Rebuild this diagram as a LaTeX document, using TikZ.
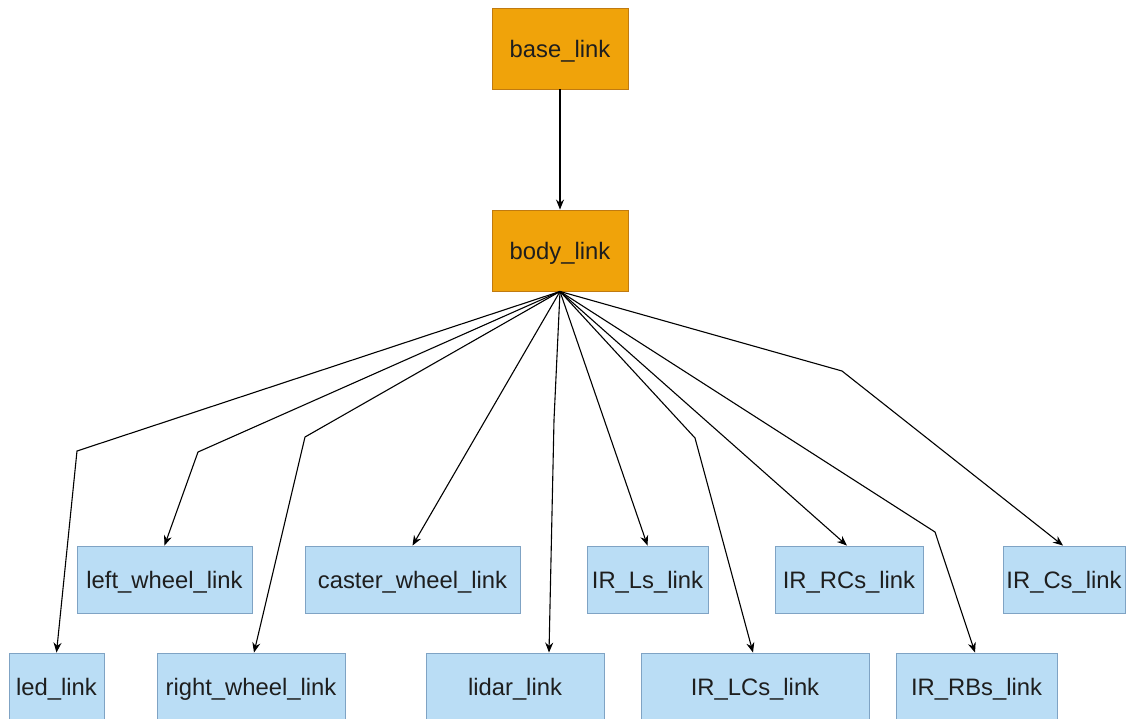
\documentclass[tikz,border=0pt]{standalone}
\usepackage{fontspec}
\setmainfont{Liberation Sans}
\usetikzlibrary{arrows.meta}
\definecolor{orfill}{HTML}{F0A30A}
\definecolor{ordraw}{HTML}{C07A10}
\definecolor{blfill}{HTML}{BADDF5}
\definecolor{bldraw}{HTML}{7FA3C4}
\definecolor{txt}{HTML}{1E1E1E}
\begin{document}
\begin{tikzpicture}[x=1pt,y=-1pt,
  box/.style={rectangle, inner sep=0pt, line width=0.9pt, text=txt,
    text height=18.5pt, text depth=0pt,
    font=\fontsize{23.8}{28}\selectfont},
  orbox/.style={box, fill=orfill, draw=ordraw, minimum width=136pt, minimum height=81pt},
  blbox/.style={box, fill=blfill, draw=bldraw, minimum height=67pt},
  arr/.style={draw=black, line width=1.1pt, -{Stealth[length=10pt,width=8pt]}}]
\clip (0,0) rectangle (1126,718);
\fill[white] (0,0) rectangle (1126,718);
% top nodes
\node[orbox] (base) at (560,48.5) {base\_link};
\node[orbox] (body) at (560,250.5) {body\_link};
% upper row
\node[blbox, minimum width=175pt] (lw) at (164.5,579.5) {left\_wheel\_link};
\node[blbox, minimum width=215pt] (cw) at (412.5,579.5) {caster\_wheel\_link};
\node[blbox, minimum width=121pt] (irls) at (647.5,579.5) {IR\_Ls\_link};
\node[blbox, minimum width=148pt] (irrcs) at (849,579.5) {IR\_RCs\_link};
\node[blbox, minimum width=122pt] (ircs) at (1064,579.5) {IR\_Cs\_link};
% lower row
\node[blbox, minimum width=95pt] (led) at (56.5,686.5) {led\_link};
\node[blbox, minimum width=188pt] (rw) at (251,686.5) {right\_wheel\_link};
\node[blbox, minimum width=178pt] (lidar) at (515,686.5) {lidar\_link};
\node[blbox, minimum width=228pt] (irlcs) at (755,686.5) {IR\_LCs\_link};
\node[blbox, minimum width=161pt] (irrbs) at (976.5,686.5) {IR\_RBs\_link};
% connectors
\draw[arr] (base.south) -- (body.north);
\draw[arr] (body.south) -- (77,451) -- (led.north);
\draw[arr] (body.south) -- (198,452) -- (lw.north);
\draw[arr] (body.south) -- (305,437) -- ([xshift=3pt]rw.north);
\draw[arr] (body.south) -- (cw.north);
\draw[arr] (body.south) -- (554,420) -- ([xshift=34pt]lidar.north);
\draw[arr] (body.south) -- (irls.north);
\draw[arr] (body.south) -- (695,438) -- ([xshift=-2pt]irlcs.north);
\draw[arr] (body.south) -- ([xshift=-2pt]irrcs.north);
\draw[arr] (body.south) -- (935,532) -- ([xshift=-1.5pt]irrbs.north);
\draw[arr] (body.south) -- (842,371) -- ([xshift=-1pt]ircs.north);
\end{tikzpicture}
\end{document}
